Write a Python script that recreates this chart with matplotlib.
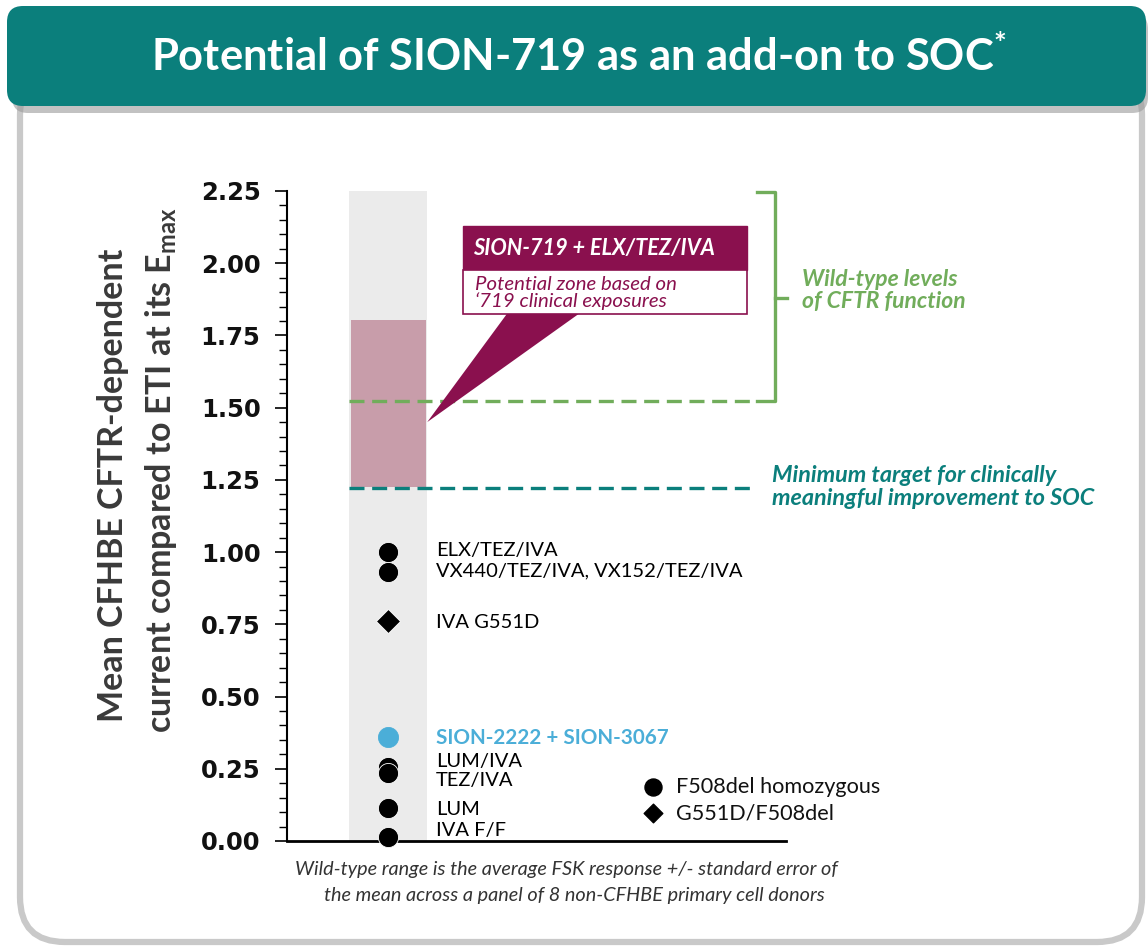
import matplotlib
matplotlib.use("Agg")
import matplotlib.pyplot as plt
from matplotlib.patches import FancyBboxPatch, Rectangle, Polygon
from matplotlib.ticker import MultipleLocator

plt.rcParams['font.family'] = ['Lato', 'DejaVu Sans']
plt.rcParams['mathtext.fontset'] = 'custom'
plt.rcParams['mathtext.rm'] = 'Lato:bold'

# ---- data ----
labels = ["ELX/TEZ/IVA", "VX440/TEZ/IVA, VX152/TEZ/IVA", "IVA G551D",
          "SION-2222 + SION-3067", "LUM/IVA", "TEZ/IVA", "LUM", "IVA F/F"]
values = [1.00, 0.93, 0.76, 0.36, 0.255, 0.235, 0.115, 0.015]
label_y = [1.005, 0.935, 0.755, 0.355, 0.275, 0.21, 0.11, 0.035]
markers = ["o", "o", "D", "o", "o", "o", "o", "o"]
point_colors = ["black", "black", "black", "#4BAED8", "black", "black", "black", "black"]

zone_low, zone_high = 1.225, 1.805          # SION-719 potential zone
wild_type_low, wild_type_high = 1.522, 2.245
min_target = 1.222

legend_labels = ["F508del homozygous", "G551D/F508del"]
legend_markers = ["o", "D"]
legend_y = [0.186, 0.096]

TEAL = "#0B7F7C"
GREEN = "#71AD5B"
MAROON = "#8A104E"
PINK = "#C89DAA"
GRAY = "#EBEBEB"

W, H = 1148, 949
fig = plt.figure(figsize=(W / 100, H / 100), dpi=100)

# background decorations in pixel space
bg = fig.add_axes([0, 0, 1, 1], zorder=0)
bg.set_xlim(0, W); bg.set_ylim(H, 0); bg.axis("off")
bg.add_patch(FancyBboxPatch((20, 70), 1122, 872, boxstyle="round,pad=0,rounding_size=45",
                            facecolor="white", edgecolor="#C9C9C9", lw=4.5))
bg.add_patch(FancyBboxPatch((12, 13), 1136, 100, boxstyle="round,pad=0,rounding_size=16",
                            facecolor="#9A9A9A", edgecolor="none", alpha=0.6))
bg.add_patch(FancyBboxPatch((7, 6), 1139, 100, boxstyle="round,pad=0,rounding_size=16",
                            facecolor=TEAL, edgecolor="none"))
bg.text(579, 56, r"Potential of SION-719 as an add-on to SOC$^{*}$", color="white",
        fontsize=31.3, fontweight="bold", ha="center", va="center")
bg.text(566, 870, "Wild-type range is the average FSK response +/- standard error of",
        fontsize=14.3, style="italic", color="#333333", ha="center", va="center")
bg.text(574, 895, "the mean across a panel of 8 non-CFHBE primary cell donors",
        fontsize=14.3, style="italic", color="#333333", ha="center", va="center")
bg.text(113, 485, "Mean CFHBE CFTR-dependent", rotation=90, fontsize=24.5, fontweight="bold",
        color="#3A3A3A", ha="center", va="center")
bg.text(161, 470, r"current compared to ETI at its E$_{\mathrm{max}}$", rotation=90, fontsize=24.5,
        fontweight="bold", color="#3A3A3A", ha="center", va="center")

# main axes
ax = fig.add_axes([287 / W, 1 - 841 / H, (786 - 287) / W, (841 - 191) / H], zorder=2)
ax.set_facecolor("none")
ax.set_xlim(0, 1)
ax.set_ylim(0, 2.25)
for s in ["top", "right"]:
    ax.spines[s].set_visible(False)
ax.spines["left"].set_linewidth(1.5)
ax.spines["bottom"].set_linewidth(2)
ax.set_xticks([])
ax.yaxis.set_major_locator(MultipleLocator(0.25))
ax.yaxis.set_minor_locator(MultipleLocator(0.05))
ax.tick_params(axis="y", which="major", length=9, width=1.2, pad=10)
ax.tick_params(axis="y", which="minor", length=6, width=1.0)
ax.set_yticks([i * 0.25 for i in range(10)])
ax.set_yticklabels([f"{i * 0.25:.2f}" for i in range(10)], fontfamily="DejaVu Sans",
                   fontweight="bold", fontsize=17.5, color="#111111")

col_l, col_r, col_x = 0.124, 0.281, 0.202
ax.add_patch(Rectangle((col_l, 0), col_r - col_l, 2.25, facecolor=GRAY, edgecolor="none", zorder=0))
ax.add_patch(Rectangle((col_l + 0.004, zone_low), col_r - col_l - 0.006, zone_high - zone_low,
                       facecolor=PINK, edgecolor="none", zorder=1))

ax.plot([col_l, 0.942], [wild_type_low, wild_type_low], color=GREEN, lw=2.4, dashes=(4.5, 2.3), zorder=2)
ax.plot([col_l, 0.942], [min_target, min_target], color=TEAL, lw=2.4, dashes=(4.5, 2.3), zorder=2)

# bracket for wild-type levels
bx = 0.978
ax.plot([0.942, bx, bx, 0.942], [wild_type_low, wild_type_low, wild_type_high, wild_type_high],
        color=GREEN, lw=2.4, clip_on=False, solid_joinstyle="round")
ax.plot([bx, 1.002], [1.88] * 2, color=GREEN, lw=2.4, clip_on=False)
ax.text(1.032, 1.905, "Wild-type levels\nof CFTR function", color=GREEN, fontsize=16.5,
        fontweight="bold", style="italic", va="center", ha="left", linespacing=1.08, clip_on=False)
ax.text(0.972, 1.225, "Minimum target for clinically\nmeaningful improvement to SOC", color=TEAL,
        fontsize=16.8, fontweight="bold", style="italic", va="center", ha="left", linespacing=1.08,
        clip_on=False)

# callout
ax.add_patch(Polygon([(0.443, 1.83), (0.589, 1.83), (0.281, 1.45)], closed=True,
                     facecolor=MAROON, edgecolor="none", zorder=3))
ax.add_patch(Rectangle((0.353, 1.977), 0.569, 0.152, facecolor=MAROON, edgecolor=MAROON, lw=1, zorder=4))
ax.add_patch(Rectangle((0.353, 1.824), 0.569, 0.153, facecolor="white", edgecolor=MAROON, lw=1.2, zorder=4))
ax.text(0.372, 2.05, "SION-719 + ELX/TEZ/IVA", color="white", fontsize=15.7, fontweight="bold",
        style="italic", va="center", ha="left", zorder=5)
ax.text(0.376, 1.897, "Potential zone based on\n\u2018719 clinical exposures", color=MAROON,
        fontsize=14.7, style="italic", va="center", ha="left", linespacing=0.9, zorder=5)

# points and labels
for v, m, c in zip(values, markers, point_colors):
    ax.scatter([col_x], [v], marker=m, s=210 if m == "o" else 150, color=c,
               edgecolors="white" if c == "black" else c, linewidths=0.6, zorder=6, clip_on=False)
for lab, ly, c in zip(labels, label_y, point_colors):
    bold = lab.startswith("SION")
    ax.text(0.299, ly, lab, color=c, fontsize=14.9 if bold else 14.5,
            fontweight="bold" if bold else "normal", va="center", ha="left", zorder=6)

# legend
for lab, m, ly in zip(legend_labels, legend_markers, legend_y):
    ax.scatter([0.733], [ly], marker=m, s=150 if m == "o" else 90, color="black", zorder=6)
    ax.text(0.779, ly, lab, fontsize=15.6, va="center", ha="left", color="#111111")

fig.savefig("out.png", dpi=100)
